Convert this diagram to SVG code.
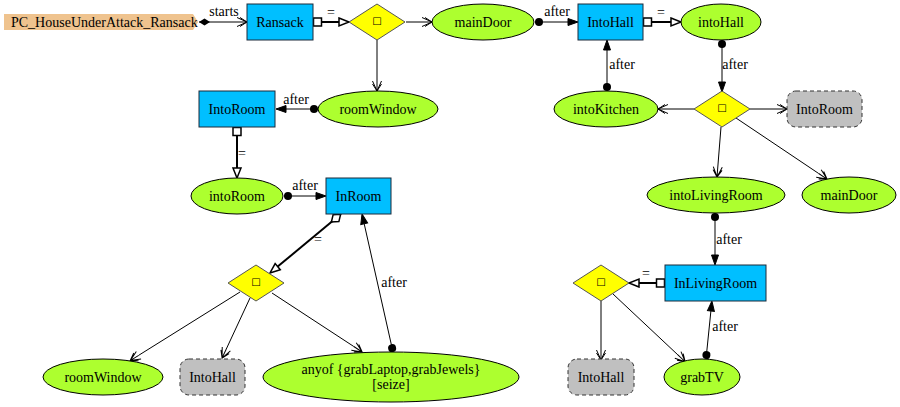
<svg xmlns="http://www.w3.org/2000/svg" width="900" height="407" viewBox="0 0 900 407">
<style>
text{font-family:'Liberation Serif','Times New Roman',Times,'DejaVu Serif',serif;font-size:14px;fill:#000;text-anchor:middle}
text.sym{font-family:'DejaVu Sans',sans-serif;font-size:10px}
.box{fill:#00BFFF;stroke:#1c2a3a;stroke-width:1}
.ell{fill:#ADFF2F;stroke:#000;stroke-width:1}
.dia{fill:#FFFF00;stroke:#555;stroke-width:1}
.ref{fill:#C0C0C0;stroke:#333;stroke-width:1;stroke-dasharray:4,3}
.e{fill:none;stroke:#000;stroke-width:1}
.eq{fill:none;stroke:#000;stroke-width:2}
.after{marker-start:url(#dot);marker-end:url(#tri)}
.alt{marker-end:url(#vee)}
.same{marker-start:url(#sq);marker-end:url(#otri)}
</style>
<defs>
<marker id="tri" markerUnits="userSpaceOnUse" markerWidth="10" markerHeight="8" refX="0" refY="0" orient="auto" overflow="visible"><path d="M0,-3.5 L10,0 L0,3.5 Z" fill="#000" stroke="#000" stroke-width="1"/></marker>
<marker id="vee" markerUnits="userSpaceOnUse" markerWidth="10" markerHeight="8" refX="0" refY="0" orient="auto" overflow="visible"><path d="M0,0 L10,0 M0,-4.5 L10,0 L0,4.5 M3,-4.5 L10,0 L3,4.5" fill="none" stroke="#000" stroke-width="1"/></marker>
<marker id="otri" markerUnits="userSpaceOnUse" markerWidth="10" markerHeight="8" refX="0" refY="0" orient="auto" overflow="visible"><path d="M0,-4 L10,0 L0,4 Z" fill="#fff" stroke="#000" stroke-width="1.5"/></marker>
<marker id="dot" markerUnits="userSpaceOnUse" markerWidth="8" markerHeight="8" refX="0" refY="0" orient="auto" overflow="visible"><circle cx="4" cy="0" r="4" fill="#000"/></marker>
<marker id="sq" markerUnits="userSpaceOnUse" markerWidth="9" markerHeight="9" refX="0" refY="0" orient="auto" overflow="visible"><rect x="0.5" y="-4" width="8" height="8" fill="#fff" stroke="#000" stroke-width="1.5"/></marker>
<marker id="dtail" markerUnits="userSpaceOnUse" markerWidth="11" markerHeight="8" refX="0" refY="0" orient="auto" overflow="visible"><path d="M0,0 L5.5,-3.5 L11,0 L5.5,3.5 Z" fill="#000"/></marker>
<marker id="odtail" markerUnits="userSpaceOnUse" markerWidth="12" markerHeight="9" refX="0" refY="0" orient="auto" overflow="visible"><path d="M0.5,0 L6.5,-4.5 L12.5,0 L6.5,4.5 Z" fill="#fff" stroke="#000" stroke-width="1.5"/></marker>
</defs>

<g id="edges">
<path class="e" d="M199,22 L237,22" style="marker-start:url(#dtail);marker-end:url(#vee)"/>
<text x="224" y="16">starts</text>
<path class="eq same" d="M313,22 L339,22"/>
<text x="331" y="17">=</text>
<path class="e alt" d="M406,22 L422,22"/>
<path class="e alt" d="M377,40 L377,81"/>
<path class="e after" d="M318,109 L286,109"/>
<text x="296" y="104">after</text>
<path class="eq same" d="M237,127 L237,168"/>
<text x="242" y="158">=</text>
<path class="e after" d="M284,196 L316,196"/>
<text x="305" y="190">after</text>
<path class="eq" d="M341,214 L277.7,266.6" style="marker-start:url(#odtail);marker-end:url(#otri)"/>
<text x="318" y="244">=</text>
<path class="e alt" d="M240,292 L138.7,355.3"/>
<path class="e alt" d="M250,298 L226.3,349"/>
<path class="e alt" d="M272,293 L353.8,346.5"/>
<path class="e after" d="M393,352 L364.2,223.8"/>
<text x="394" y="287">after</text>
<path class="e after" d="M535,22 L568,22"/>
<text x="557" y="16">after</text>
<path class="eq same" d="M643,22 L671,22"/>
<text x="661" y="17">=</text>
<path class="e after" d="M722,40 L722,82"/>
<text x="735" y="69">after</text>
<path class="e after" d="M607,91 L607,50"/>
<text x="622" y="69">after</text>
<path class="e alt" d="M694,109 L668,109"/>
<path class="e alt" d="M750,109 L777,109"/>
<path class="e alt" d="M721,127 L717.8,167"/>
<path class="e alt" d="M736,118 L818.7,173.5"/>
<path class="e after" d="M715,213 L715,255"/>
<text x="729" y="244">after</text>
<path class="eq same" d="M665,283 L639,283"/>
<text x="646" y="278">=</text>
<path class="e alt" d="M601,301 L601,350"/>
<path class="e alt" d="M613,294 L677.9,354.9"/>
<path class="e after" d="M706,359 L710.9,311"/>
<text x="725" y="331">after</text>
</g>

<g id="PC_HouseUnderAttack_Ransack">
<polygon points="4,14 193,14 198,22 193,30 4,30" fill="#EFC38E" stroke="none"/>
<text x="11" y="27" style="text-anchor:start">PC_HouseUnderAttack_Ransack</text>
</g>
<g id="Ransack"><rect class="box" x="247" y="4" width="66" height="36"/><text x="280" y="27">Ransack</text></g>
<g id="alt1"><polygon class="dia" points="377,4 405,22 377,40 349,22"/><text class="sym" x="377" y="24">□</text></g>
<g id="mainDoor1"><ellipse class="ell" cx="483" cy="22" rx="51" ry="18"/><text x="483" y="27">mainDoor</text></g>
<g id="IntoHall"><rect class="box" x="578" y="4" width="65" height="36"/><text x="610.5" y="27">IntoHall</text></g>
<g id="intoHall"><ellipse class="ell" cx="721" cy="22" rx="40" ry="18"/><text x="721" y="27">intoHall</text></g>
<g id="roomWindow1"><ellipse class="ell" cx="378" cy="109" rx="60" ry="18"/><text x="378" y="114">roomWindow</text></g>
<g id="IntoRoom"><rect class="box" x="199" y="91" width="76" height="36"/><text x="237" y="114">IntoRoom</text></g>
<g id="intoKitchen"><ellipse class="ell" cx="606" cy="109" rx="52" ry="18"/><text x="606" y="114">intoKitchen</text></g>
<g id="alt2"><polygon class="dia" points="722,91 750,109 722,127 694,109"/><text class="sym" x="722" y="111">□</text></g>
<g id="IntoRoomRef"><rect class="ref" x="787" y="91" width="75" height="36" rx="9"/><text x="824.5" y="114">IntoRoom</text></g>
<g id="intoRoom"><ellipse class="ell" cx="237" cy="196" rx="46" ry="18"/><text x="237" y="201">intoRoom</text></g>
<g id="InRoom"><rect class="box" x="326" y="178" width="65" height="36"/><text x="358.5" y="201">InRoom</text></g>
<g id="intoLivingRoom"><ellipse class="ell" cx="716" cy="195" rx="69" ry="18"/><text x="716" y="200">intoLivingRoom</text></g>
<g id="mainDoor2"><ellipse class="ell" cx="849" cy="195" rx="47" ry="18"/><text x="849" y="200">mainDoor</text></g>
<g id="alt3"><polygon class="dia" points="256,265 284,283 256,301 228,283"/><text class="sym" x="256" y="285">□</text></g>
<g id="InLivingRoom"><rect class="box" x="665" y="265" width="101" height="36"/><text x="715.5" y="288">InLivingRoom</text></g>
<g id="alt4"><polygon class="dia" points="601,265 629,283 601,301 573,283"/><text class="sym" x="601" y="285">□</text></g>
<g id="roomWindow2"><ellipse class="ell" cx="103" cy="377" rx="60" ry="18"/><text x="103" y="382">roomWindow</text></g>
<g id="IntoHallRef1"><rect class="ref" x="180" y="359" width="65" height="36" rx="9"/><text x="212.5" y="382">IntoHall</text></g>
<g id="anyof"><ellipse class="ell" cx="391" cy="377" rx="128" ry="25"/><text x="391" y="374">anyof {grabLaptop,grabJewels}</text><text x="391" y="389">[seize]</text></g>
<g id="IntoHallRef2"><rect class="ref" x="568" y="359" width="66" height="36" rx="9"/><text x="601" y="382">IntoHall</text></g>
<g id="grabTV"><ellipse class="ell" cx="702" cy="377" rx="38" ry="18"/><text x="702" y="382">grabTV</text></g>
</svg>
